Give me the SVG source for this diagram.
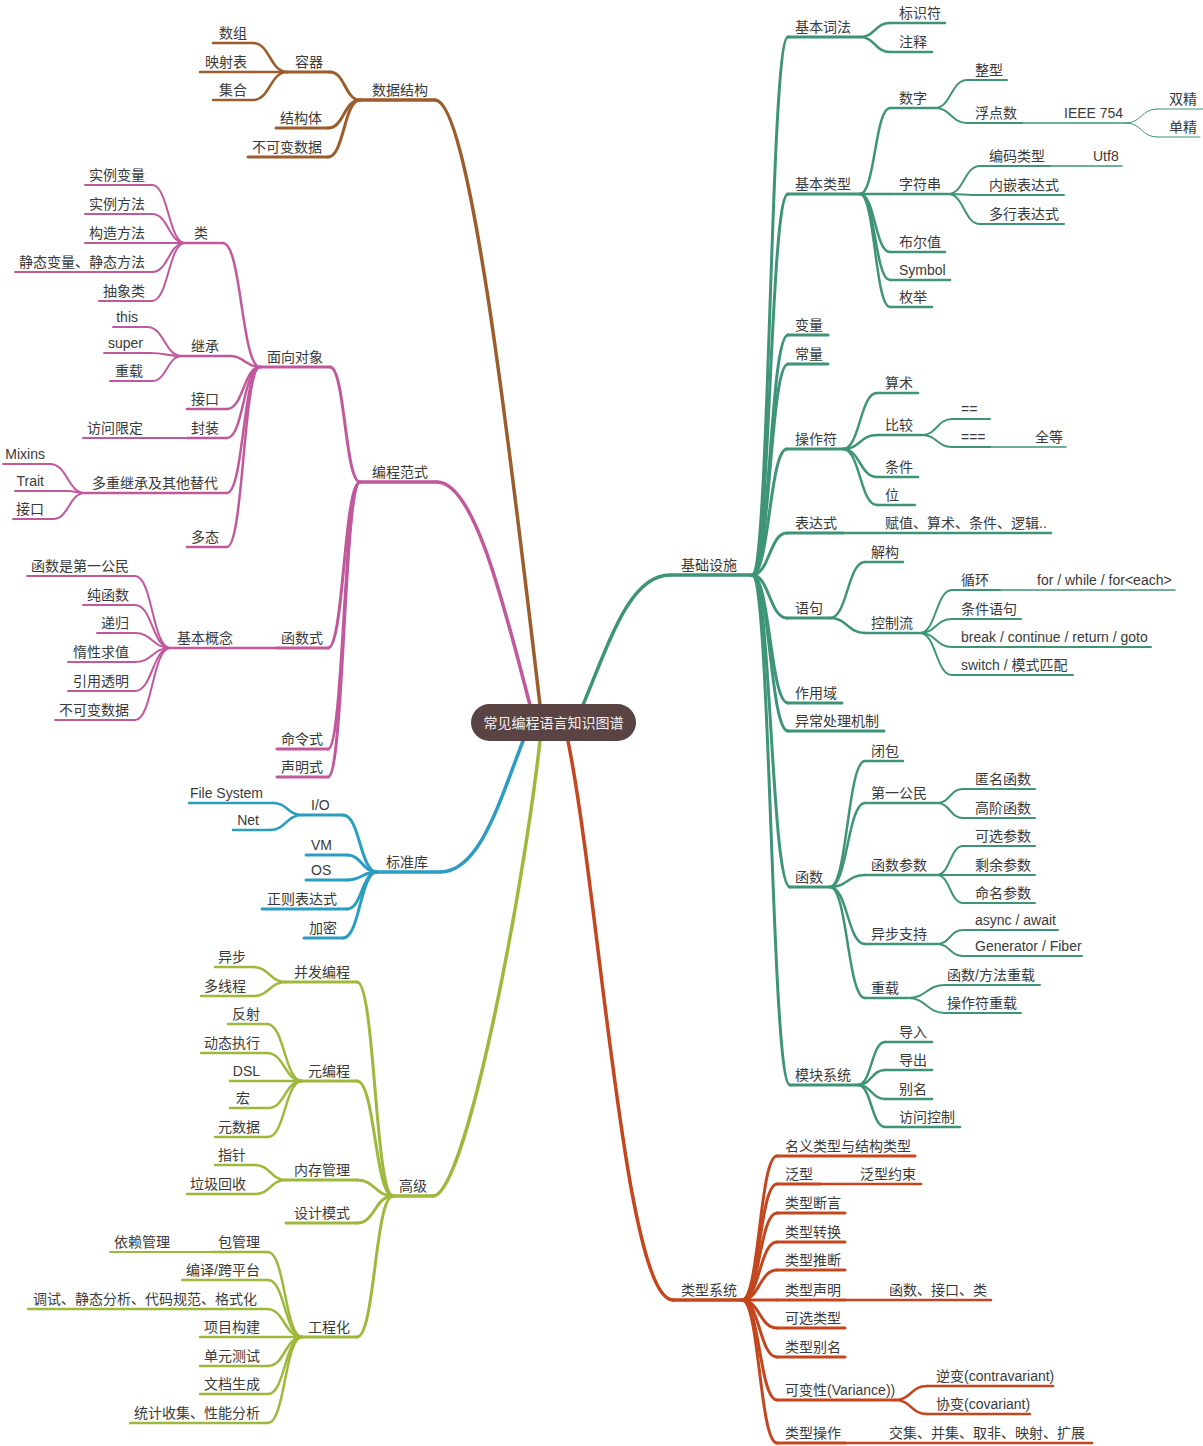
<svg xmlns="http://www.w3.org/2000/svg" width="1203" height="1446" viewBox="0 0 1203 1446">
<style>
path{fill:none;stroke-linecap:round}
.brown{stroke:#9c5d2c}.pink{stroke:#c1589c}.teal{stroke:#3e9477}.blue{stroke:#2a9dc0}.green{stroke:#9db93c}.red{stroke:#c4461e}
.w1{stroke-width:3.5}.w2{stroke-width:3}.w3{stroke-width:2.5}.w4{stroke-width:2}.w5{stroke-width:1.5}.w6{stroke-width:1}
text{font-family:"Liberation Sans","Noto Sans CJK SC",sans-serif;font-size:14px;fill:#3a3a3a;stroke:none}
.e{text-anchor:end}
</style>
<rect width="1203" height="1446" fill="#ffffff"/>
<g id="connectors">
<g class="brown">
<path class="w1" d="M540 705C510 450 470 100 435 100"/>
<path class="w2" d="M360 100C345 100 345 72 330 72"/>
<path class="w2" d="M360 100C344 100 344 128 328 128"/>
<path class="w2" d="M360 100C344 100 344 157 328 157"/>
<path class="w3" d="M287 72C270 72 270 43 253 43"/>
<path class="w3" d="M287 72H253"/>
<path class="w3" d="M287 72C270 72 270 100 253 100"/>
</g>
<g class="pink">
<path class="w1" d="M530 705C505 610 475 482 437 482"/>
<path class="w2" d="M360 482C345 482 345 367 330 367"/>
<path class="w2" d="M360 482C344 482 344 648 328 648"/>
<path class="w2" d="M360 482C344 482 344 749 328 749"/>
<path class="w2" d="M360 482C344 482 344 777 328 777"/>
<path class="w3" d="M260 367C241.5 367 241.5 243 223 243"/>
<path class="w3" d="M260 367C245 367 245 356 230 356"/>
<path class="w3" d="M260 367C243.5 367 243.5 409 227 409"/>
<path class="w3" d="M260 367C243.5 367 243.5 438 227 438"/>
<path class="w3" d="M260 367C243.5 367 243.5 493 227 493"/>
<path class="w3" d="M260 367C243.5 367 243.5 547 227 547"/>
<path class="w4" d="M185 243C168.5 243 168.5 185 152 185"/>
<path class="w4" d="M185 243C168.5 243 168.5 214 152 214"/>
<path class="w4" d="M185 243H152"/>
<path class="w4" d="M185 243C168.5 243 168.5 272 152 272"/>
<path class="w4" d="M185 243C168.5 243 168.5 301 152 301"/>
<path class="w4" d="M182 356C164.5 356 164.5 327 147 327"/>
<path class="w4" d="M182 356C166 356 166 353 150 353"/>
<path class="w4" d="M182 356C167 356 167 381 152 381"/>
<path class="w4" d="M85 493C67.5 493 67.5 464 50 464"/>
<path class="w4" d="M85 493C76 493 76 491 67 491"/>
<path class="w4" d="M85 493C69 493 69 519 53 519"/>
<path class="w4" d="M170 648C152.5 648 152.5 576 135 576"/>
<path class="w4" d="M170 648C152.5 648 152.5 605 135 605"/>
<path class="w4" d="M170 648C152.5 648 152.5 633 135 633"/>
<path class="w4" d="M170 648C152.5 648 152.5 662 135 662"/>
<path class="w4" d="M170 648C152.5 648 152.5 691 135 691"/>
<path class="w4" d="M170 648C152.5 648 152.5 720 135 720"/>
</g>
<g class="blue">
<path class="w1" d="M523 741C500 800 480 872 440 872"/>
<path class="w2" d="M377 872C360 872 360 815 343 815"/>
<path class="w2" d="M377 872C362 872 362 855 347 855"/>
<path class="w2" d="M377 872C362 872 362 880 347 880"/>
<path class="w2" d="M377 872C362 872 362 909 347 909"/>
<path class="w2" d="M377 872C360 872 360 938 343 938"/>
<path class="w3" d="M302 815C287.5 815 287.5 803 273 803"/>
<path class="w3" d="M302 815C286 815 286 830 270 830"/>
</g>
<g class="green">
<path class="w1" d="M540 741C522 900 465 1196 433 1196"/>
<path class="w2" d="M393 1196C375 1196 375 982 357 982"/>
<path class="w2" d="M393 1196C375 1196 375 1081 357 1081"/>
<path class="w2" d="M393 1196C375 1196 375 1180 357 1180"/>
<path class="w2" d="M393 1196C375 1196 375 1223 357 1223"/>
<path class="w2" d="M393 1196C375 1196 375 1337 357 1337"/>
<path class="w3" d="M286 982C269.5 982 269.5 967 253 967"/>
<path class="w3" d="M286 982C269.5 982 269.5 996 253 996"/>
<path class="w3" d="M302 1081C284.5 1081 284.5 1024 267 1024"/>
<path class="w3" d="M302 1081C284.5 1081 284.5 1053 267 1053"/>
<path class="w3" d="M302 1081H267"/>
<path class="w3" d="M302 1081C285 1081 285 1108 268 1108"/>
<path class="w3" d="M302 1081C285 1081 285 1137 268 1137"/>
<path class="w3" d="M286 1180C270.5 1180 270.5 1165 255 1165"/>
<path class="w3" d="M286 1180C270.5 1180 270.5 1194 255 1194"/>
<path class="w3" d="M302 1337C285 1337 285 1252 268 1252"/>
<path class="w3" d="M302 1337C285 1337 285 1280 268 1280"/>
<path class="w3" d="M302 1337C284.5 1337 284.5 1309 267 1309"/>
<path class="w3" d="M302 1337H268"/>
<path class="w3" d="M302 1337C285 1337 285 1366 268 1366"/>
<path class="w3" d="M302 1337C285 1337 285 1394 268 1394"/>
<path class="w3" d="M302 1337C285 1337 285 1423 268 1423"/>
</g>
<g class="teal">
<path class="w1" d="M583 705C610 640 630 575 670 575"/>
<path class="w2" d="M752 575C770 575 770 37 788 37"/>
<path class="w2" d="M752 575C770 575 770 194 788 194"/>
<path class="w2" d="M752 575C770 575 770 335 788 335"/>
<path class="w2" d="M752 575C770 575 770 364 788 364"/>
<path class="w2" d="M752 575C769.5 575 769.5 449 787 449"/>
<path class="w2" d="M752 575C769.5 575 769.5 533 787 533"/>
<path class="w2" d="M752 575C769.5 575 769.5 618 787 618"/>
<path class="w2" d="M752 575C770 575 770 703 788 703"/>
<path class="w2" d="M752 575C770 575 770 731 788 731"/>
<path class="w2" d="M752 575C771 575 771 887 790 887"/>
<path class="w2" d="M752 575C771 575 771 1085 790 1085"/>
<path class="w3" d="M860 37C875 37 875 23 890 23"/>
<path class="w3" d="M860 37C875 37 875 52 890 52"/>
<path class="w3" d="M860 194C875 194 875 108 890 108"/>
<path class="w3" d="M860 194H890"/>
<path class="w3" d="M860 194C875 194 875 252 890 252"/>
<path class="w3" d="M860 194C875 194 875 280 890 280"/>
<path class="w3" d="M860 194C875 194 875 307 890 307"/>
<path class="w4" d="M935 108C951 108 951 80 967 80"/>
<path class="w4" d="M935 108C951 108 951 123 967 123"/>
<path class="w6" d="M1126 123C1141.5 123 1141.5 109 1157 109"/>
<path class="w6" d="M1126 123C1141.5 123 1141.5 137 1157 137"/>
<path class="w4" d="M948 194C964 194 964 166 980 166"/>
<path class="w4" d="M948 194C964 194 964 195 980 195"/>
<path class="w4" d="M948 194C964 194 964 224 980 224"/>
<path class="w3" d="M843 449C860 449 860 393 877 393"/>
<path class="w3" d="M843 449C860 449 860 435 877 435"/>
<path class="w3" d="M843 449C860 449 860 477 877 477"/>
<path class="w3" d="M843 449C860 449 860 505 877 505"/>
<path class="w4" d="M922 435C937 435 937 419 952 419"/>
<path class="w4" d="M922 435C937 435 937 447 952 447"/>
<path class="w3" d="M830 618C847.5 618 847.5 562 865 562"/>
<path class="w3" d="M830 618C847.5 618 847.5 633 865 633"/>
<path class="w4" d="M920 633C936 633 936 590 952 590"/>
<path class="w4" d="M920 633C936 633 936 619 952 619"/>
<path class="w4" d="M920 633C936 633 936 647 952 647"/>
<path class="w4" d="M920 633C936 633 936 675 952 675"/>
<path class="w3" d="M830 887C847.5 887 847.5 761 865 761"/>
<path class="w3" d="M830 887C847.5 887 847.5 803 865 803"/>
<path class="w3" d="M830 887C847.5 887 847.5 875 865 875"/>
<path class="w3" d="M830 887C847.5 887 847.5 944 865 944"/>
<path class="w3" d="M830 887C847.5 887 847.5 998 865 998"/>
<path class="w4" d="M937 803C950 803 950 789 963 789"/>
<path class="w4" d="M937 803C950 803 950 818 963 818"/>
<path class="w4" d="M937 875C950 875 950 846 963 846"/>
<path class="w4" d="M937 875H963"/>
<path class="w4" d="M937 875C950 875 950 903 963 903"/>
<path class="w4" d="M937 944C950 944 950 930 963 930"/>
<path class="w4" d="M937 944C950 944 950 956 963 956"/>
<path class="w4" d="M908 998C926.5 998 926.5 985 945 985"/>
<path class="w4" d="M908 998C926.5 998 926.5 1013 945 1013"/>
<path class="w3" d="M858 1085C871.5 1085 871.5 1042 885 1042"/>
<path class="w3" d="M858 1085C871.5 1085 871.5 1070 885 1070"/>
<path class="w3" d="M858 1085C871.5 1085 871.5 1099 885 1099"/>
<path class="w3" d="M858 1085C871.5 1085 871.5 1127 885 1127"/>
</g>
<g class="red">
<path class="w1" d="M568 741C600 900 625 1300 673 1300"/>
<path class="w2" d="M742 1300C759.5 1300 759.5 1156 777 1156"/>
<path class="w2" d="M742 1300C759.5 1300 759.5 1184 777 1184"/>
<path class="w2" d="M742 1300C759.5 1300 759.5 1213 777 1213"/>
<path class="w2" d="M742 1300C759.5 1300 759.5 1242 777 1242"/>
<path class="w2" d="M742 1300C759.5 1300 759.5 1270 777 1270"/>
<path class="w2" d="M742 1300H777"/>
<path class="w2" d="M742 1300C759.5 1300 759.5 1328 777 1328"/>
<path class="w2" d="M742 1300C759.5 1300 759.5 1357 777 1357"/>
<path class="w2" d="M742 1300C759.5 1300 759.5 1400 777 1400"/>
<path class="w2" d="M742 1300C759.5 1300 759.5 1443 777 1443"/>
<path class="w3" d="M895 1400C911 1400 911 1386 927 1386"/>
<path class="w3" d="M895 1400C911 1400 911 1414 927 1414"/>
</g>
</g>

<g id="branch-data" class="brown">
<g id="ds"><path class="w1" d="M360 100H435"/><text class="e" x="428" y="95">数据结构</text></g>
<g id="ds-container"><path class="w2" d="M287 72H330"/><text class="e" x="323" y="67">容器</text></g>
<g id="ds-array"><path class="w3" d="M213 43H253"/><text class="e" x="247" y="38">数组</text></g>
<g id="ds-map"><path class="w3" d="M200 72H253"/><text class="e" x="247" y="67">映射表</text></g>
<g id="ds-set"><path class="w3" d="M213 100H253"/><text class="e" x="247" y="95">集合</text></g>
<g id="ds-struct"><path class="w2" d="M276 128H328"/><text class="e" x="322" y="123">结构体</text></g>
<g id="ds-immutable"><path class="w2" d="M248 157H328"/><text class="e" x="322" y="152">不可变数据</text></g>
</g>

<g id="branch-paradigm" class="pink">
<g id="pp"><path class="w1" d="M360 482H437"/><text class="e" x="428" y="477">编程范式</text></g>
<g id="pp-oop"><path class="w2" d="M260 367H330"/><text class="e" x="323" y="362">面向对象</text></g>
<g id="oop-class"><path class="w3" d="M185 243H223"/><text class="e" x="208" y="238">类</text></g>
<g id="class-iv"><path class="w4" d="M85 185H152"/><text class="e" x="145" y="180">实例变量</text></g>
<g id="class-im"><path class="w4" d="M85 214H152"/><text class="e" x="145" y="209">实例方法</text></g>
<g id="class-ctor"><path class="w4" d="M85 243H152"/><text class="e" x="145" y="238">构造方法</text></g>
<g id="class-static"><path class="w4" d="M15 272H152"/><text class="e" x="145" y="267">静态变量、静态方法</text></g>
<g id="class-abstract"><path class="w4" d="M99 301H152"/><text class="e" x="145" y="296">抽象类</text></g>
<g id="oop-inherit"><path class="w3" d="M182 356H230"/><text class="e" x="219" y="351">继承</text></g>
<g id="inh-this"><path class="w4" d="M113 327H147"/><text class="e" x="138" y="322">this</text></g>
<g id="inh-super"><path class="w4" d="M104 353H150"/><text class="e" x="143" y="348">super</text></g>
<g id="inh-overload"><path class="w4" d="M110 381H152"/><text class="e" x="143" y="376">重载</text></g>
<g id="oop-interface"><path class="w3" d="M187 409H227"/><text class="e" x="219" y="404">接口</text></g>
<g id="oop-encap"><path class="w3" d="M187 438H227"/><text class="e" x="219" y="433">封装</text></g>
<g id="encap-access"><path class="w4" d="M83 438H187"/><text class="e" x="143" y="433">访问限定</text></g>
<g id="oop-multi"><path class="w3" d="M85 493H227"/><text class="e" x="218" y="488">多重继承及其他替代</text></g>
<g id="multi-mixins"><path class="w4" d="M3 464H50"/><text class="e" x="45" y="459">Mixins</text></g>
<g id="multi-trait"><path class="w4" d="M15 491H67"/><text class="e" x="44" y="486">Trait</text></g>
<g id="multi-interface"><path class="w4" d="M13 519H53"/><text class="e" x="44" y="514">接口</text></g>
<g id="oop-poly"><path class="w3" d="M187 547H227"/><text class="e" x="219" y="542">多态</text></g>
<g id="pp-fp"><path class="w2" d="M277 648H328"/><text class="e" x="323" y="643">函数式</text></g>
<g id="fp-basic"><path class="w3" d="M170 648H277"/><text class="e" x="233" y="643">基本概念</text></g>
<g id="basic-first"><path class="w4" d="M27 576H135"/><text class="e" x="129" y="571">函数是第一公民</text></g>
<g id="basic-pure"><path class="w4" d="M83 605H135"/><text class="e" x="129" y="600">纯函数</text></g>
<g id="basic-rec"><path class="w4" d="M97 633H135"/><text class="e" x="129" y="628">递归</text></g>
<g id="basic-lazy"><path class="w4" d="M68 662H135"/><text class="e" x="129" y="657">惰性求值</text></g>
<g id="basic-ref"><path class="w4" d="M68 691H135"/><text class="e" x="129" y="686">引用透明</text></g>
<g id="basic-immut"><path class="w4" d="M55 720H135"/><text class="e" x="129" y="715">不可变数据</text></g>
<g id="pp-imperative"><path class="w2" d="M277 749H328"/><text class="e" x="323" y="744">命令式</text></g>
<g id="pp-declarative"><path class="w2" d="M277 777H328"/><text class="e" x="323" y="772">声明式</text></g>
</g>

<g id="branch-stdlib" class="blue">
<g id="std"><path class="w1" d="M377 872H440"/><text class="e" x="428" y="867">标准库</text></g>
<g id="std-io"><path class="w2" d="M302 815H343"/><text x="311" y="810">I/O</text></g>
<g id="io-fs"><path class="w3" d="M189 803H273"/><text class="e" x="263" y="798">File System</text></g>
<g id="io-net"><path class="w3" d="M233 830H270"/><text class="e" x="259" y="825">Net</text></g>
<g id="std-vm"><path class="w2" d="M306 855H347"/><text x="311" y="850">VM</text></g>
<g id="std-os"><path class="w2" d="M306 880H347"/><text x="311" y="875">OS</text></g>
<g id="std-regex"><path class="w2" d="M262 909H347"/><text class="e" x="337" y="904">正则表达式</text></g>
<g id="std-crypto"><path class="w2" d="M304 938H343"/><text class="e" x="337" y="933">加密</text></g>
</g>

<g id="branch-advanced" class="green">
<g id="adv"><path class="w1" d="M393 1196H433"/><text class="e" x="427" y="1191">高级</text></g>
<g id="adv-conc"><path class="w2" d="M286 982H357"/><text class="e" x="350" y="977">并发编程</text></g>
<g id="conc-async"><path class="w3" d="M215 967H253"/><text class="e" x="246" y="962">异步</text></g>
<g id="conc-thread"><path class="w3" d="M201 996H253"/><text class="e" x="246" y="991">多线程</text></g>
<g id="adv-meta"><path class="w2" d="M302 1081H357"/><text class="e" x="350" y="1076">元编程</text></g>
<g id="meta-reflect"><path class="w3" d="M228 1024H267"/><text class="e" x="260" y="1019">反射</text></g>
<g id="meta-eval"><path class="w3" d="M201 1053H267"/><text class="e" x="260" y="1048">动态执行</text></g>
<g id="meta-dsl"><path class="w3" d="M230 1081H267"/><text class="e" x="260" y="1076">DSL</text></g>
<g id="meta-macro"><path class="w3" d="M230 1108H268"/><text class="e" x="250" y="1103">宏</text></g>
<g id="meta-data"><path class="w3" d="M215 1137H268"/><text class="e" x="260" y="1132">元数据</text></g>
<g id="adv-mem"><path class="w2" d="M286 1180H357"/><text class="e" x="350" y="1175">内存管理</text></g>
<g id="mem-ptr"><path class="w3" d="M215 1165H255"/><text class="e" x="246" y="1160">指针</text></g>
<g id="mem-gc"><path class="w3" d="M187 1194H255"/><text class="e" x="246" y="1189">垃圾回收</text></g>
<g id="adv-pattern"><path class="w2" d="M286 1223H357"/><text class="e" x="350" y="1218">设计模式</text></g>
<g id="adv-eng"><path class="w2" d="M302 1337H357"/><text class="e" x="350" y="1332">工程化</text></g>
<g id="eng-pkg"><path class="w3" d="M212 1252H268"/><text class="e" x="260" y="1247">包管理</text></g>
<g id="pkg-dep"><path class="w4" d="M110 1252H212"/><text class="e" x="170" y="1247">依赖管理</text></g>
<g id="eng-compile"><path class="w3" d="M182 1280H268"/><text class="e" x="260" y="1275">编译/跨平台</text></g>
<g id="eng-debug"><path class="w3" d="M28 1309H267"/><text class="e" x="257" y="1304">调试、静态分析、代码规范、格式化</text></g>
<g id="eng-build"><path class="w3" d="M200 1337H268"/><text class="e" x="260" y="1332">项目构建</text></g>
<g id="eng-test"><path class="w3" d="M200 1366H268"/><text class="e" x="260" y="1361">单元测试</text></g>
<g id="eng-doc"><path class="w3" d="M200 1394H268"/><text class="e" x="260" y="1389">文档生成</text></g>
<g id="eng-stats"><path class="w3" d="M130 1423H268"/><text class="e" x="260" y="1418">统计收集、性能分析</text></g>
</g>

<g id="branch-infra" class="teal">
<g id="infra"><path class="w1" d="M670 575H752"/><text x="681" y="570">基础设施</text></g>
<g id="lex"><path class="w2" d="M788 37H860"/><text x="795" y="32">基本词法</text></g>
<g id="lex-id"><path class="w3" d="M890 23H945"/><text x="899" y="18">标识符</text></g>
<g id="lex-comment"><path class="w3" d="M890 52H932"/><text x="899" y="47">注释</text></g>
<g id="types"><path class="w2" d="M788 194H860"/><text x="795" y="189">基本类型</text></g>
<g id="num"><path class="w3" d="M890 108H935"/><text x="899" y="103">数字</text></g>
<g id="num-int"><path class="w4" d="M967 80H1007"/><text x="975" y="75">整型</text></g>
<g id="num-float"><path class="w4" d="M967 123H1022"/><text x="975" y="118">浮点数</text></g>
<g id="float-ieee"><path class="w5" d="M1022 123H1126"/><text x="1064" y="118">IEEE 754</text></g>
<g id="ieee-double"><path class="w6" d="M1157 109H1203"/><text x="1169" y="104">双精</text></g>
<g id="ieee-single"><path class="w6" d="M1157 137H1200"/><text x="1169" y="132">单精</text></g>
<g id="str"><path class="w3" d="M890 194H948"/><text x="899" y="189">字符串</text></g>
<g id="str-enc"><path class="w4" d="M980 166H1050"/><text x="989" y="161">编码类型</text></g>
<g id="enc-utf8"><path class="w5" d="M1050 166H1122"/><text x="1093" y="161">Utf8</text></g>
<g id="str-interp"><path class="w4" d="M980 195H1064"/><text x="989" y="190">内嵌表达式</text></g>
<g id="str-multi"><path class="w4" d="M980 224H1064"/><text x="989" y="219">多行表达式</text></g>
<g id="bool"><path class="w3" d="M890 252H945"/><text x="899" y="247">布尔值</text></g>
<g id="symbol"><path class="w3" d="M890 280H950"/><text x="899" y="275">Symbol</text></g>
<g id="enum"><path class="w3" d="M890 307H932"/><text x="899" y="302">枚举</text></g>
<g id="var"><path class="w2" d="M788 335H828"/><text x="795" y="330">变量</text></g>
<g id="const"><path class="w2" d="M788 364H828"/><text x="795" y="359">常量</text></g>
<g id="ops"><path class="w2" d="M787 449H843"/><text x="795" y="444">操作符</text></g>
<g id="ops-arith"><path class="w3" d="M877 393H918"/><text x="885" y="388">算术</text></g>
<g id="ops-cmp"><path class="w3" d="M877 435H922"/><text x="885" y="430">比较</text></g>
<g id="cmp-eq"><path class="w4" d="M952 419H990"/><text x="961" y="414">==</text></g>
<g id="cmp-seq"><path class="w4" d="M952 447H990"/><text x="961" y="442">===</text></g>
<g id="seq-strict"><path class="w5" d="M990 447H1066"/><text x="1035" y="442">全等</text></g>
<g id="ops-cond"><path class="w3" d="M877 477H918"/><text x="885" y="472">条件</text></g>
<g id="ops-bit"><path class="w3" d="M877 505H915"/><text x="885" y="500">位</text></g>
<g id="expr"><path class="w2" d="M787 533H843"/><text x="795" y="528">表达式</text></g>
<g id="expr-kinds"><path class="w3" d="M843 533H1051"/><text x="885" y="528">赋值、算术、条件、逻辑..</text></g>
<g id="stmt"><path class="w2" d="M787 618H830"/><text x="795" y="613">语句</text></g>
<g id="stmt-destr"><path class="w3" d="M865 562H903"/><text x="871" y="557">解构</text></g>
<g id="stmt-flow"><path class="w3" d="M865 633H920"/><text x="871" y="628">控制流</text></g>
<g id="flow-loop"><path class="w4" d="M952 590H1000"/><text x="961" y="585">循环</text></g>
<g id="loop-kinds"><path class="w5" d="M1000 590H1175"/><text x="1037" y="585">for / while / for&lt;each&gt;</text></g>
<g id="flow-cond"><path class="w4" d="M952 619H1021"/><text x="961" y="614">条件语句</text></g>
<g id="flow-jump"><path class="w4" d="M952 647H1151"/><text x="961" y="642">break / continue / return / goto</text></g>
<g id="flow-switch"><path class="w4" d="M952 675H1073"/><text x="961" y="670">switch / 模式匹配</text></g>
<g id="scope"><path class="w2" d="M788 703H842"/><text x="795" y="698">作用域</text></g>
<g id="exc"><path class="w2" d="M788 731H884"/><text x="795" y="726">异常处理机制</text></g>
<g id="fn"><path class="w2" d="M790 887H830"/><text x="795" y="882">函数</text></g>
<g id="fn-closure"><path class="w3" d="M865 761H903"/><text x="871" y="756">闭包</text></g>
<g id="fn-first"><path class="w3" d="M865 803H937"/><text x="871" y="798">第一公民</text></g>
<g id="first-anon"><path class="w4" d="M963 789H1035"/><text x="975" y="784">匿名函数</text></g>
<g id="first-hof"><path class="w4" d="M963 818H1035"/><text x="975" y="813">高阶函数</text></g>
<g id="fn-params"><path class="w3" d="M865 875H937"/><text x="871" y="870">函数参数</text></g>
<g id="params-opt"><path class="w4" d="M963 846H1035"/><text x="975" y="841">可选参数</text></g>
<g id="params-rest"><path class="w4" d="M963 875H1035"/><text x="975" y="870">剩余参数</text></g>
<g id="params-named"><path class="w4" d="M963 903H1035"/><text x="975" y="898">命名参数</text></g>
<g id="fn-async"><path class="w3" d="M865 944H937"/><text x="871" y="939">异步支持</text></g>
<g id="async-await"><path class="w4" d="M963 930H1058"/><text x="975" y="925">async / await</text></g>
<g id="async-gen"><path class="w4" d="M963 956H1082"/><text x="975" y="951">Generator / Fiber</text></g>
<g id="fn-overload"><path class="w3" d="M865 998H908"/><text x="871" y="993">重载</text></g>
<g id="ov-fn"><path class="w4" d="M945 985H1040"/><text x="947" y="980">函数/方法重载</text></g>
<g id="ov-op"><path class="w4" d="M945 1013H1021"/><text x="947" y="1008">操作符重载</text></g>
<g id="mod"><path class="w2" d="M790 1085H858"/><text x="795" y="1080">模块系统</text></g>
<g id="mod-import"><path class="w3" d="M885 1042H932"/><text x="899" y="1037">导入</text></g>
<g id="mod-export"><path class="w3" d="M885 1070H932"/><text x="899" y="1065">导出</text></g>
<g id="mod-alias"><path class="w3" d="M885 1099H932"/><text x="899" y="1094">别名</text></g>
<g id="mod-access"><path class="w3" d="M885 1127H960"/><text x="899" y="1122">访问控制</text></g>
</g>

<g id="branch-types" class="red">
<g id="ts"><path class="w1" d="M673 1300H742"/><text x="681" y="1295">类型系统</text></g>
<g id="ts-nominal"><path class="w2" d="M777 1156H915"/><text x="785" y="1151">名义类型与结构类型</text></g>
<g id="ts-generic"><path class="w2" d="M777 1184H820"/><text x="785" y="1179">泛型</text></g>
<g id="gen-constraint"><path class="w3" d="M820 1184H921"/><text x="860" y="1179">泛型约束</text></g>
<g id="ts-assert"><path class="w2" d="M777 1213H845"/><text x="785" y="1208">类型断言</text></g>
<g id="ts-cast"><path class="w2" d="M777 1242H845"/><text x="785" y="1237">类型转换</text></g>
<g id="ts-infer"><path class="w2" d="M777 1270H845"/><text x="785" y="1265">类型推断</text></g>
<g id="ts-decl"><path class="w2" d="M777 1300H845"/><text x="785" y="1295">类型声明</text></g>
<g id="decl-kinds"><path class="w3" d="M845 1300H991"/><text x="889" y="1295">函数、接口、类</text></g>
<g id="ts-optional"><path class="w2" d="M777 1328H845"/><text x="785" y="1323">可选类型</text></g>
<g id="ts-alias"><path class="w2" d="M777 1357H845"/><text x="785" y="1352">类型别名</text></g>
<g id="ts-variance"><path class="w2" d="M777 1400H895"/><text x="785" y="1395">可变性(Variance))</text></g>
<g id="var-contra"><path class="w3" d="M927 1386H1053"/><text x="936" y="1381">逆变(contravariant)</text></g>
<g id="var-co"><path class="w3" d="M927 1414H1030"/><text x="936" y="1409">协变(covariant)</text></g>
<g id="ts-ops"><path class="w2" d="M777 1443H845"/><text x="785" y="1438">类型操作</text></g>
<g id="ops-kinds"><path class="w3" d="M845 1443H1092"/><text x="889" y="1438">交集、并集、取非、映射、扩展</text></g>
</g>

<g id="root">
<rect x="471" y="704" width="165" height="37" rx="18.5" fill="#5a4443"/>
<text x="553.5" y="727.5" text-anchor="middle" style="fill:#f4efef">常见编程语言知识图谱</text>
</g>
</svg>
